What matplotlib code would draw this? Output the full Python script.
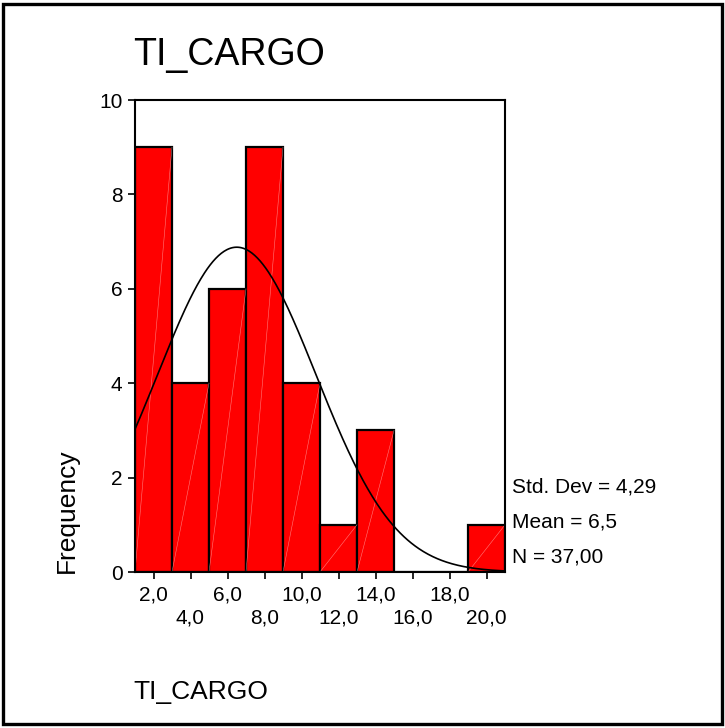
import numpy as np
import matplotlib
matplotlib.use("Agg")
import matplotlib.pyplot as plt
from matplotlib.patches import Rectangle

plt.rcParams['font.family'] = ['Liberation Sans', 'DejaVu Sans']

# Histogram of TI_CARGO: bin centres and counts (bin width 2)
bin_centers = [2, 4, 6, 8, 10, 12, 14, 16, 18, 20]
counts = [9, 4, 6, 9, 4, 1, 3, 0, 0, 1]
bin_width = 2.0

# Summary statistics shown beside the plot
std_dev = 4.29
mean = 6.5
n_obs = 37

row1_ticks = [2, 6, 10, 14, 18]
row2_ticks = [4, 8, 12, 16, 20]
y_ticks = [0, 2, 4, 6, 8, 10]

fig = plt.figure(figsize=(7.25, 7.28), dpi=100)
W, H = 725, 728

# outer frame
fig.patches.append(Rectangle((3 / W, 4 / H), 719 / W, 720 / H, transform=fig.transFigure,
                             fill=False, edgecolor='black', linewidth=2.4))

ax = fig.add_axes([135 / W, (H - 572) / H, 370 / W, 472 / H])
ax.bar(bin_centers, counts, width=bin_width, color='#ff0000', edgecolor='black',
       linewidth=1.6, zorder=2)

# faint diagonal shading line inside each bar
for c, h in zip(bin_centers, counts):
    if h > 0:
        ax.plot([c - bin_width / 2, c + bin_width / 2], [0, h], color='#ffb0b0',
                linewidth=0.4, alpha=0.7, zorder=2.5)

# fitted normal curve scaled to counts
xs = np.linspace(1, 21, 400)
ys = n_obs * bin_width * np.exp(-0.5 * ((xs - mean) / std_dev) ** 2) / (std_dev * np.sqrt(2 * np.pi))
ax.plot(xs, ys, color='black', linewidth=1.2, zorder=3)

ax.set_xlim(1, 21)
ax.set_ylim(0, 10)
for s in ax.spines.values():
    s.set_linewidth(1.5)

ax.set_yticks(y_ticks)
ax.set_yticklabels([str(v) for v in y_ticks])
ax.set_xticks(row1_ticks)
ax.set_xticklabels([f"{v:.1f}".replace('.', ',') for v in row1_ticks])
ax.set_xticks(row2_ticks, minor=True)
ax.set_xticklabels([f"{v:.1f}".replace('.', ',') for v in row2_ticks], minor=True)
ax.tick_params(axis='both', which='both', direction='out', length=5, width=1.2,
               labelsize=15, colors='black')
ax.tick_params(axis='x', which='major', pad=5)
ax.tick_params(axis='x', which='minor', pad=21)
ax.tick_params(axis='y', pad=4)

fig.text(67 / W, 1 - 511 / H, 'Frequency', fontsize=19, rotation=90,
         ha='center', va='center')

fig.text(133 / W, 1 - 55 / H, 'TI_CARGO', fontsize=27, ha='left', va='center')
fig.text(133 / W, 1 - 692 / H, 'TI_CARGO', fontsize=19, ha='left', va='center')

stats = ["Std. Dev = " + f"{std_dev:.2f}".replace('.', ','),
         "Mean = " + f"{mean:.1f}".replace('.', ','),
         "N = " + f"{n_obs:.2f}".replace('.', ',')]
for i, t in enumerate(stats):
    fig.text(512 / W, 1 - (487 + 35 * i) / H, t, fontsize=15, ha='left', va='center')

fig.savefig('out.png', dpi=100)
